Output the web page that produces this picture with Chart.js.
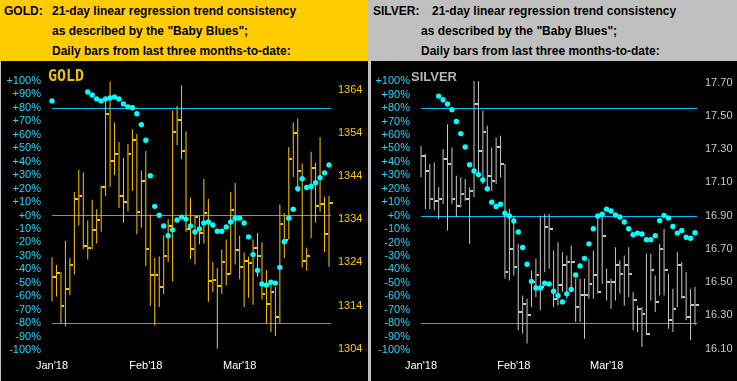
<!DOCTYPE html>
<html>
<head>
<meta charset="utf-8">
<script src="https://cdn.jsdelivr.net/npm/chart.js@4.4.1/dist/chart.umd.min.js"></script>
<style>
  body { margin: 0; width: 737px; height: 381px; background: #c0c0c0; position: relative; overflow: hidden;
         font-family: "Liberation Sans", Arial, sans-serif; }
  .hdr { position: absolute; top: 0; height: 61px; }
  .hdr span { position: absolute; font-weight: bold; font-size: 12px; line-height: 14px; color: #000; white-space: nowrap; }
  .box { position: absolute; top: 61px; height: 320px; background: #000; }
  .tag { position: absolute; white-space: nowrap; }
</style>
</head>
<body>
<div class="hdr" style="left:0;width:368px;background:#ffcc00">
  <span style="left:4px;top:4px">GOLD:</span>
  <span style="left:52px;top:4px">21-day linear regression trend consistency</span>
  <span style="left:52px;top:24px">as described by the "Baby Blues";</span>
  <span style="left:52px;top:44px">Daily bars from last three months-to-date:</span>
</div>
<div class="hdr" style="left:370px;width:367px;background:#c0c0c0">
  <span style="left:3px;top:4px">SILVER:</span>
  <span style="left:62px;top:4px">21-day linear regression trend consistency</span>
  <span style="left:51px;top:24px">as described by the "Baby Blues";</span>
  <span style="left:51px;top:44px">Daily bars from last three months-to-date:</span>
</div>
<div class="box" style="left:1px;width:367px"><canvas id="gold" width="367" height="320"></canvas></div>
<div class="box" style="left:371px;width:366px"><canvas id="silver" width="366" height="320"></canvas></div>
<div class="tag" style="left:48px;top:67px;font:bold 15px 'DejaVu Sans Mono';color:#f0c000">GOLD</div>
<div class="tag" style="left:411px;top:69px;font:bold 13px 'Liberation Sans';color:#b4b4b4">SILVER</div>

<script>
// month labels sit on the first bar of each month
const monthTicks = { 0: "Jan'18", 21: "Feb'18", 42: "Mar'18" };
const barCount = 63;
const xLabels = Array.from({ length: barCount }, (_, i) => monthTicks[i] || "");

// left axis: Baby Blues consistency, %
const pctTicks = [-100, -90, -80, -70, -60, -50, -40, -30, -20, -10, 0, 10, 20, 30, 40, 50, 60, 70, 80, 90, 100];
const pctLines = [80, 0, -80];

// gold daily bars
const goldHigh = [1325.2, 1323.4, 1321.8, 1329.0, 1325.1, 1340.3, 1345.5, 1344.8, 1333.7, 1338.5,
  1336.3, 1341.8, 1361.5, 1365.9, 1356.4, 1351.9, 1348.2, 1351.4, 1354.8, 1353.7,
  1345.3, 1349.8, 1335.1, 1325.0, 1325.4, 1330.3, 1334.0, 1359.1, 1360.2, 1365.0,
  1354.3, 1339.0, 1334.9, 1334.8, 1343.3, 1338.7, 1324.1, 1322.7, 1327.0, 1329.3,
  1340.3, 1342.4, 1330.2, 1326.3, 1325.4, 1329.3, 1330.8, 1328.6, 1322.2, 1319.9,
  1318.4, 1337.4, 1335.4, 1350.7, 1356.4, 1357.3, 1346.9, 1327.4, 1349.6, 1347.1,
  1353.0, 1339.2, 1339.4];
const goldLow = [1315.0, 1316.1, 1310.0, 1309.2, 1316.4, 1321.2, 1332.5, 1327.1, 1324.7, 1327.1,
  1328.4, 1331.1, 1339.4, 1341.5, 1344.2, 1336.6, 1333.2, 1335.8, 1340.6, 1330.5,
  1332.0, 1323.2, 1314.0, 1309.4, 1313.7, 1316.7, 1324.1, 1319.6, 1351.2, 1347.9,
  1331.1, 1324.8, 1323.5, 1328.2, 1328.4, 1314.9, 1317.1, 1304.0, 1316.7, 1318.7,
  1321.2, 1323.5, 1320.1, 1313.7, 1315.8, 1314.2, 1320.7, 1315.4, 1310.0, 1307.9,
  1307.0, 1310.0, 1325.0, 1329.3, 1343.8, 1340.3, 1322.8, 1322.1, 1329.6, 1333.2,
  1335.7, 1326.4, 1323.0];
const goldClose = [1320.7, 1321.6, 1313.9, 1317.8, 1323.4, 1338.7, 1339.3, 1327.7, 1327.4, 1331.6,
  1333.8, 1341.5, 1358.3, 1347.4, 1349.1, 1339.3, 1337.9, 1349.0, 1352.4, 1335.7,
  1342.8, 1327.2, 1321.0, 1321.2, 1318.4, 1325.5, 1332.5, 1354.1, 1356.9, 1349.9,
  1331.8, 1327.1, 1334.5, 1330.9, 1335.4, 1319.6, 1319.9, 1318.5, 1324.1, 1321.4,
  1336.1, 1326.8, 1323.0, 1324.4, 1323.9, 1327.3, 1325.5, 1316.7, 1314.4, 1317.1,
  1311.3, 1333.0, 1329.3, 1347.9, 1354.0, 1345.2, 1324.4, 1325.5, 1345.8, 1337.1,
  1337.5, 1330.5, 1337.7];
const goldBlues = [85.2, null, null, null, null, null, null, null, 91.8, 89.6,
  86.7, 85.2, 86.7, 87.4, 88.2, 86.7, 83.0, 80.8, 80.1, 75.7,
  67.6, 55.9, 29.5, 6.8, 0.2, -7.8, -15.1, -10.7, -3.4, -1.2,
  -2.7, -7.8, -12.2, -10.0, -5.6, -4.9, -7.1, -11.7, -11.7, -8.5,
  -4.9, -2.0, -2.0, -5.6, -15.9, -29.1, -40.8, -51.0, -51.8, -49.6,
  -50.3, -38.6, -19.5, -2.0, 4.6, 20.0, 27.4, 20.8, 21.5, 24.4,
  28.1, 31.7, 37.6];
const goldPriceTicks = [1304, 1314, 1324, 1334, 1344, 1354, 1364];

// silver daily bars
const silverHigh = [17.32, 17.27, 17.21, 17.22, 17.07, 17.30, 17.45, 17.31, 17.14, 17.13,
  17.12, 17.07, 17.71, 17.71, 17.53, 17.44, 17.31, 17.37, 17.38, 17.21,
  16.94, 16.90, 16.73, 16.42, 16.40, 16.57, 16.64, 16.90, 16.91, 16.91,
  16.69, 16.74, 16.68, 16.66, 16.72, 16.52, 16.52, 16.52, 16.64, 16.69,
  16.90, 16.91, 16.58, 16.52, 16.71, 16.63, 16.66, 16.71, 16.44, 16.36,
  16.35, 16.67, 16.67, 16.54, 16.73, 16.82, 16.55, 16.46, 16.68, 16.62,
  16.56, 16.46, 16.47];
const silverLow = [17.13, 16.94, 16.94, 16.93, 16.88, 16.97, 16.81, 16.97, 16.89, 16.95,
  16.99, 16.73, 17.01, 17.13, 17.09, 17.05, 17.05, 17.09, 17.13, 16.52,
  16.51, 16.54, 16.21, 16.19, 16.13, 16.35, 16.41, 16.33, 16.56, 16.58,
  16.35, 16.36, 16.44, 16.40, 16.46, 16.26, 16.26, 16.16, 16.40, 16.40,
  16.43, 16.49, 16.39, 16.34, 16.39, 16.43, 16.36, 16.41, 16.21, 16.20,
  16.11, 16.18, 16.39, 16.32, 16.42, 16.42, 16.22, 16.20, 16.35, 16.40,
  16.27, 16.15, 16.24];
const silverClose = [17.26, 17.17, 17.00, 16.99, 17.00, 17.24, 17.21, 17.00, 16.96, 17.03,
  17.00, 17.05, 17.57, 17.29, 17.40, 17.14, 17.11, 17.31, 17.21, 16.56,
  16.70, 16.59, 16.32, 16.37, 16.30, 16.50, 16.54, 16.47, 16.83, 16.82,
  16.40, 16.48, 16.60, 16.62, 16.62, 16.35, 16.42, 16.42, 16.49, 16.54,
  16.44, 16.78, 16.50, 16.50, 16.60, 16.55, 16.60, 16.55, 16.39, 16.34,
  16.31, 16.19, 16.57, 16.38, 16.70, 16.57, 16.27, 16.34, 16.60, 16.41,
  16.29, 16.36, 16.36];
const silverBlues = [null, null, null, null, 88.9, 86.2, 83.0, 78.8, 70.0, 61.0,
  51.0, 37.8, 33.2, 30.5, 26.6, 20.0, 10.0, 6.8, 8.5, 1.7,
  -0.3, -4.0, -12.2, -23.7, -36.2, -48.9, -53.8, -53.8, -50.3, -50.8,
  -56.2, -59.5, -64.2, -58.2, -55.0, -44.2, -37.4, -31.8, -21.0, -9.8,
  -0.3, 1.1, 4.8, 3.4, 0.4, -1.0, -4.7, -9.8, -14.2, -13.0,
  -13.7, -17.9, -17.9, -14.9, -3.7, 0.2, -1.8, -8.1, -13.0, -11.0,
  -16.1, -16.8, -12.7];
const silverPriceTicks = [16.10, 16.30, 16.50, 16.70, 16.90, 17.10, 17.30, 17.50, 17.70];

const FONT = "'Liberation Sans', Arial, sans-serif";

// close tick: short stub to the right of the high-low line
function closeStub(color) {
  const c = document.createElement("canvas");
  c.width = 7; c.height = 2;
  const g = c.getContext("2d");
  g.fillStyle = color;
  g.fillRect(4, 0, 3, 2);
  return c;
}

function pctLabel(v) {
  if (v > 0) return "+" + v + "%";
  if (v === 0) return "+0%";
  return v + "%";
}

// +80% / 0% / -80% reference lines, placed with the left scale
const refLines = {
  id: "refLines",
  beforeDatasetsDraw(chart) {
    const { ctx, chartArea, scales } = chart;
    ctx.save();
    ctx.strokeStyle = "#00bfff";
    ctx.lineWidth = 1;
    pctLines.forEach(v => {
      const y = Math.round(scales.y.getPixelForValue(v)) + 0.5;
      ctx.beginPath();
      ctx.moveTo(chartArea.left, y);
      ctx.lineTo(chartArea.right + 2, y);
      ctx.stroke();
    });
    ctx.restore();
  }
};

function buildChart(id, o) {
  return new Chart(document.getElementById(id), {
    plugins: [refLines],
    data: {
      labels: xLabels,
      datasets: [
        { type: "line", data: o.blues, yAxisID: "y", showLine: false, clip: false,
          pointStyle: "circle", pointRadius: 2.7, pointBackgroundColor: "#00ffff", pointBorderWidth: 0 },
        { type: "line", data: o.close, yAxisID: "y1", showLine: false, clip: false,
          pointStyle: closeStub(o.color), pointRadius: 3 },
        { type: "bar", data: o.low.map((l, i) => [l, o.high[i]]), yAxisID: "y1", clip: false,
          backgroundColor: o.color, barThickness: 1, borderWidth: 0, inflateAmount: 0 }
      ]
    },
    options: {
      responsive: false,
      animation: false,
      events: [],
      layout: { padding: { top: 11, left: 0, right: 0, bottom: 0 } },
      plugins: { legend: { display: false }, tooltip: { enabled: false } },
      scales: {
        x: {
          type: "category", offset: false,
          grid: { display: false, offset: false, drawTicks: false },
          border: { display: false },
          ticks: { autoSkip: false, maxRotation: 0, color: "#ffffff", padding: 8, font: { size: 11, family: FONT } },
          afterFit: s => { s.height = 30; }
        },
        y: {
          position: "left", min: o.pctMin, max: o.pctMax,
          afterBuildTicks: s => { s.ticks = pctTicks.map(v => ({ value: v })); },
          grid: { display: false, drawTicks: false },
          border: { display: false },
          ticks: { autoSkip: false, color: "#22d8ff", padding: 11, font: { size: 11, family: FONT }, callback: pctLabel },
          afterFit: s => { s.width = o.leftW; }
        },
        y1: {
          position: "right", min: o.priceMin, max: o.priceMax,
          afterBuildTicks: s => { s.ticks = o.priceTicks.map(v => ({ value: v })); },
          grid: { display: false, drawTicks: false },
          border: { display: false },
          ticks: { autoSkip: false, color: o.labelColor, padding: o.rightPad, font: { size: 11, family: FONT },
                   callback: v => v.toFixed(o.dec) },
          afterFit: s => { s.width = o.rightW; }
        }
      }
    }
  });
}

buildChart("gold", {
  high: goldHigh, low: goldLow, close: goldClose, blues: goldBlues, priceTicks: goldPriceTicks,
  color: "#ffc800", labelColor: "#ffc800", dec: 0,
  pctMin: -100.8, pctMax: 101.8, priceMin: 1303.5, priceMax: 1366.55,
  leftW: 51, rightW: 39, rightPad: 9
});

buildChart("silver", {
  high: silverHigh, low: silverLow, close: silverClose, blues: silverBlues, priceTicks: silverPriceTicks,
  color: "#c8c8c8", labelColor: "#c8c8c8", dec: 2,
  pctMin: -100.7, pctMax: 101.9, priceMin: 16.0856, priceMax: 17.724,
  leftW: 50, rightW: 42, rightPad: 10
});
</script>
</body>
</html>
